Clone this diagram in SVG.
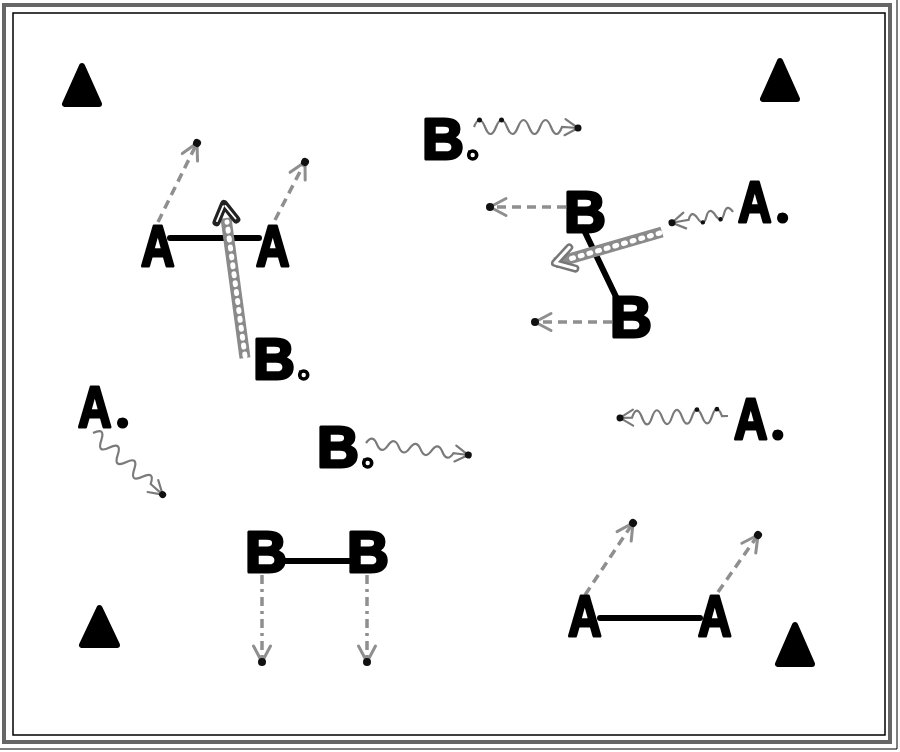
<svg xmlns="http://www.w3.org/2000/svg" width="900" height="752" viewBox="0 0 900 752">
<style>
.atom{font-family:"Liberation Sans",Arial,sans-serif;font-weight:bold;font-size:58px;fill:#000;stroke:#000;stroke-width:3;stroke-linejoin:round}
.per{stroke:none}
.dotA{fill:#000}
.dotB{fill:#fff;stroke:#000;stroke-width:3.6}
.tri{fill:#000;stroke:#000;stroke-width:6;stroke-linejoin:round}
.bond{stroke:#000;stroke-width:6;stroke-linecap:round;fill:none}
.dash{stroke:#8f8f8f;stroke-width:3.5;stroke-dasharray:9 6;fill:none;marker-end:url(#arr)}
.dashdot{stroke:#8f8f8f;stroke-width:3.5;stroke-dasharray:9 5 3 5;fill:none;marker-end:url(#arr)}
.wave{stroke:#7a7a7a;stroke-width:2.2;fill:none;marker-end:url(#warr)}
.chain{stroke:#8a8a8a;stroke-width:11;fill:none}
.chainin{stroke:#fff;stroke-width:5;stroke-dasharray:2 7;stroke-linecap:round;fill:none}
.pk{fill:#111}
</style>
<defs>
<marker id="arr" viewBox="-22 -14 26 28" refX="0" refY="0" markerWidth="26" markerHeight="28" markerUnits="userSpaceOnUse" orient="auto" overflow="visible">
<path d="M-16,-8.5 L0,0 L-16,8.5" fill="none" stroke="#8f8f8f" stroke-width="3" stroke-linecap="round" stroke-linejoin="round"/>
<circle r="4" fill="#111"/>
</marker>
<marker id="warr" viewBox="-22 -14 26 28" refX="0" refY="0" markerWidth="26" markerHeight="28" markerUnits="userSpaceOnUse" orient="auto" overflow="visible">
<path d="M-13,-8 L0,0 L-13,8" fill="none" stroke="#7a7a7a" stroke-width="2.2" stroke-linecap="round" stroke-linejoin="round"/>
<circle r="3.5" fill="#111"/>
</marker>
<marker id="carr" viewBox="-26 -18 30 36" refX="0" refY="0" markerWidth="30" markerHeight="36" markerUnits="userSpaceOnUse" orient="auto" overflow="visible">
<path d="M-18,-11 L0,0 L-18,11" fill="none" stroke="#777" stroke-width="8" stroke-linecap="round" stroke-linejoin="round"/>
<path d="M-18,-11 L0,0 L-18,11" fill="none" stroke="#fff" stroke-width="3" stroke-linecap="round" stroke-linejoin="round"/>
</marker>
<marker id="carrdark" viewBox="-26 -18 30 36" refX="0" refY="0" markerWidth="30" markerHeight="36" markerUnits="userSpaceOnUse" orient="auto" overflow="visible">
<path d="M-17,-10 L0,0 L-17,10" fill="none" stroke="#222" stroke-width="8" stroke-linecap="round" stroke-linejoin="round"/>
<path d="M-16,-9.4 L-2,-1 M-16,9.4 L-2,1" fill="none" stroke="#fff" stroke-width="1.8" stroke-linecap="round"/>
</marker>
</defs>
<rect width="900" height="752" fill="#fff"/>
<g id="frame">
<rect x="4" y="5" width="886" height="737" fill="none" stroke="#666" stroke-width="4"/>
<rect x="13" y="13" width="872" height="722" fill="none" stroke="#000" stroke-width="1.5"/>
<line x1="897" y1="0" x2="897" y2="749" stroke="#000" stroke-width="1"/>
<line x1="0" y1="749" x2="897" y2="749" stroke="#000" stroke-width="1"/>
</g>
<g id="connectors">
<line class="bond" x1="170" y1="238" x2="259" y2="238"/>
<line class="bond" x1="583" y1="228" x2="620" y2="305"/>
<line class="bond" x1="280" y1="561" x2="352" y2="561"/>
<line class="bond" x1="600" y1="618" x2="700" y2="618"/>
<path class="dash" d="M158,222 L197,143"/>
<path class="dash" d="M275,220 L305,162"/>
<path class="dash" d="M566,207 L490,207"/>
<path class="dash" d="M612,322 L535,322"/>
<path class="dashdot" d="M262,575 L262,662"/>
<path class="dashdot" d="M367,575 L367,662"/>
<path class="dash" d="M585,595 L633,523"/>
<path class="dash" d="M718,592 L758,535"/>
<g id="chain1"><path class="chain" d="M245,358 L226,218"/><path class="chainin" d="M245,356 L227,222"/><path d="M226,218 L224,204" fill="none" stroke="none" marker-end="url(#carrdark)"/></g>
<g id="chain2"><path class="chain" d="M662,232 L555,263" marker-end="url(#carr)"/><path class="chainin" d="M660,233 L566,260"/></g>
<g id="wave1" transform="translate(474,127)">
<path class="wave" d="M0,0 q5.5,-14 11,0 t11,0 t11,0 t11,0 t11,0 t11,0 t11,0 t11,0 l16,1"/>
<circle class="pk" cx="5.5" cy="-7" r="2.5"/><circle class="pk" cx="27.5" cy="-7" r="2.5"/>
</g>
<g id="wave2" transform="translate(733,212) rotate(170)">
<path class="wave" d="M0,0 q4.5,10 9,0 t9,0 t9,0 t9,0 t9,0 l17,0"/>
<circle class="pk" cx="13.5" cy="-5" r="2.2"/><circle class="pk" cx="31.5" cy="-5" r="2.2"/>
</g>
<g id="wave3" transform="translate(93,433) rotate(41.5)">
<path class="wave" d="M0,0 q5.5,-13 11,0 t11,0 t11,0 t11,0 t11,0 t11,0 t11,0 l16,0"/>
</g>
<g id="wave4" transform="translate(366,443) rotate(6.7)">
<path class="wave" d="M0,0 q5.5,-10 11,0 t11,0 t11,0 t11,0 t11,0 t11,0 t11,0 t11,0 l15,0"/>
</g>
<g id="wave5" transform="translate(728,416) rotate(179)">
<path class="wave" d="M0,0 l6,0 q5,14 10,0 t10,0 t10,0 t10,0 t10,0 t10,0 t10,0 t10,0 t10,0 l12,0"/>
<circle class="pk" cx="11" cy="7" r="2.4"/><circle class="pk" cx="31" cy="7" r="2.4"/>
</g>
</g>
<g id="tri1"><polygon class="tri" points="82,66 65,104 99,104"/></g>
<g id="tri2"><polygon class="tri" points="780,61 763,99 797,99"/></g>
<g id="tri3"><polygon class="tri" points="99.5,608 82,645 117,645"/></g>
<g id="tri4"><polygon class="tri" points="795,625 778,664 812,664"/></g>
<g id="nodeA1"><text class="atom" transform="translate(141,266) scale(0.8,1)">A</text></g>
<g id="nodeA2"><text class="atom" transform="translate(256,266) scale(0.8,1)">A</text></g>
<g id="nodeB1"><text class="atom" x="253" y="379">B<tspan class="per">.</tspan></text><circle class="dotB" cx="303.7" cy="375" r="4"/></g>
<g id="nodeB2"><text class="atom" x="422" y="159">B<tspan class="per">.</tspan></text><circle class="dotB" cx="472.7" cy="155" r="4"/></g>
<g id="nodeB3"><text class="atom" x="564" y="232">B</text></g>
<g id="nodeB4"><text class="atom" x="610" y="337">B</text></g>
<g id="nodeA3"><text class="atom" transform="translate(738,222) scale(0.8,1)">A<tspan class="per" dx="5">.</tspan></text><circle class="dotA" cx="782.6" cy="218" r="5.6"/></g>
<g id="nodeA4"><text class="atom" transform="translate(78,427) scale(0.8,1)">A<tspan class="per" dx="5">.</tspan></text><circle class="dotA" cx="122.6" cy="423" r="5.6"/></g>
<g id="nodeB5"><text class="atom" x="317" y="467">B<tspan class="per">.</tspan></text><circle class="dotB" cx="367.7" cy="463" r="4"/></g>
<g id="nodeB6"><text class="atom" x="245" y="572">B</text></g>
<g id="nodeB7"><text class="atom" x="347" y="572">B</text></g>
<g id="nodeA5"><text class="atom" transform="translate(734,439) scale(0.8,1)">A<tspan class="per" dx="4">.</tspan></text><circle class="dotA" cx="777.8" cy="435" r="5.6"/></g>
<g id="nodeA6"><text class="atom" transform="translate(568,636) scale(0.8,1)">A</text></g>
<g id="nodeA7"><text class="atom" transform="translate(698,636) scale(0.8,1)">A</text></g>
</svg>
